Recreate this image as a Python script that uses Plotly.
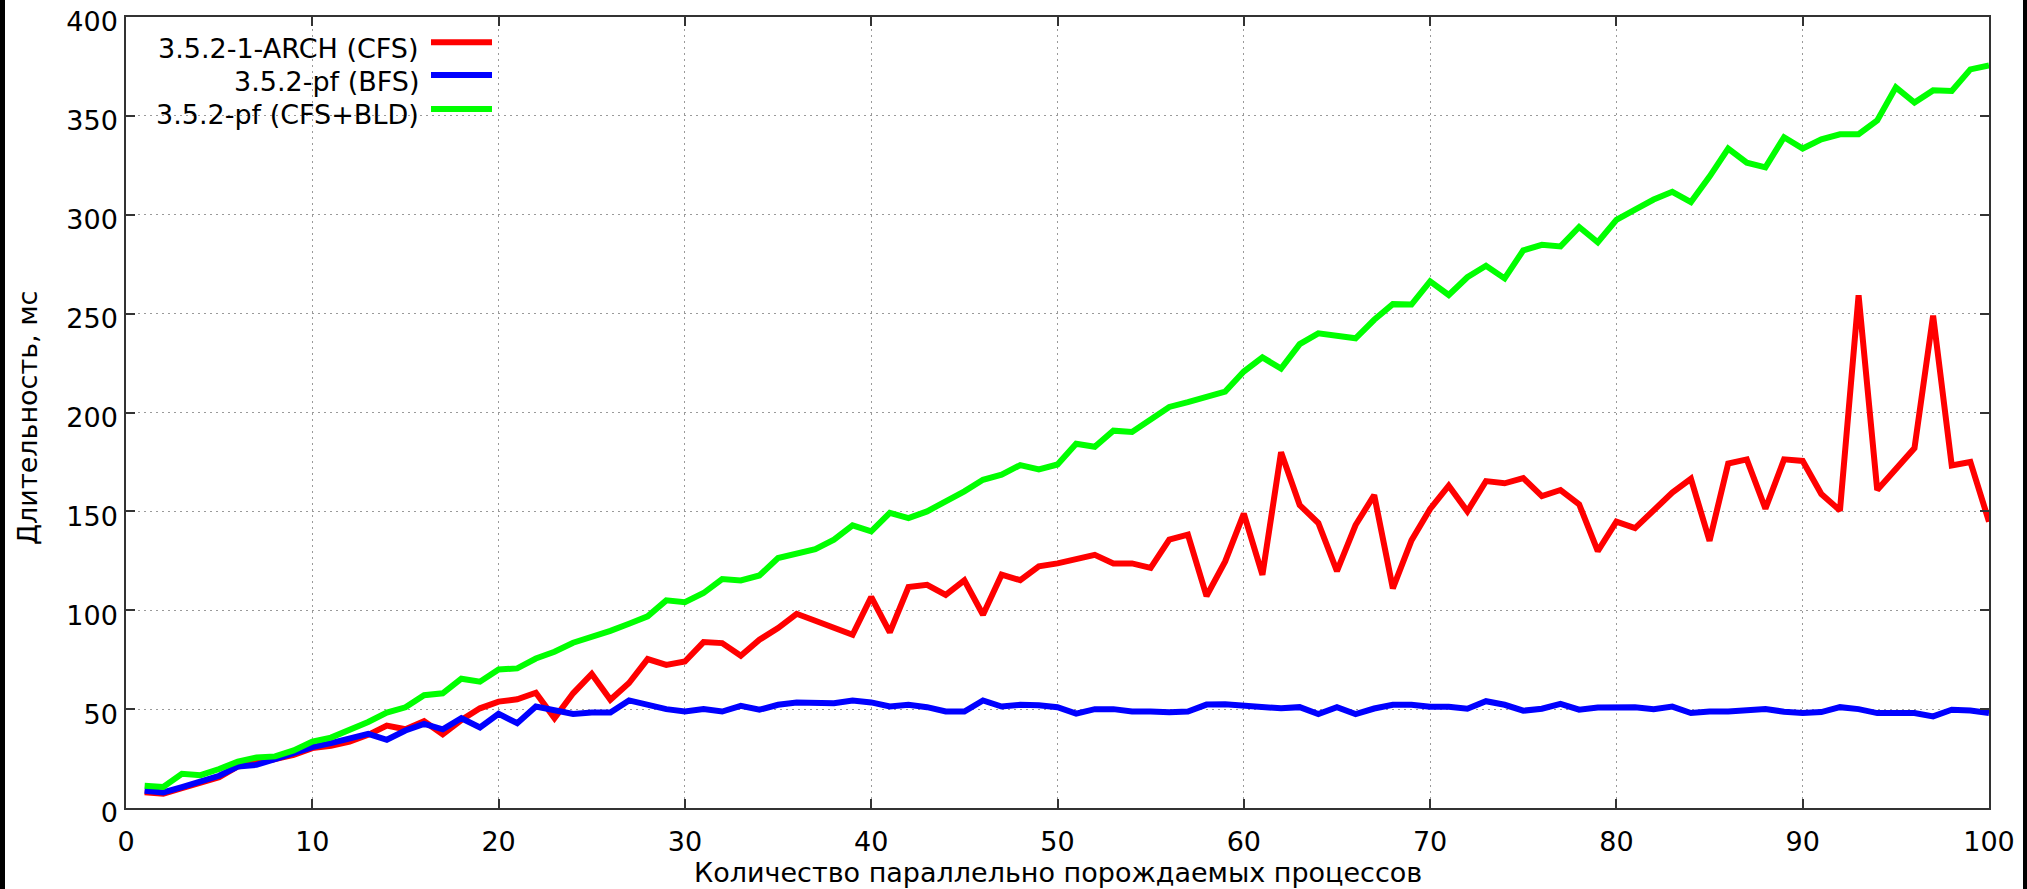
import plotly.graph_objects as go

x_vals = list(range(1, 101))

arch_cfs = [7.9, 7.2, 10.1, 12.9, 15.6, 21.0, 22.7, 24.7, 26.9, 30.3,
            31.4, 33.6, 37.0, 41.7, 39.8, 43.9, 37.3, 44.5, 50.4, 53.8,
            55.0, 58.3, 45.4, 58.0, 67.8, 54.7, 63.2, 75.3, 72.4, 74.1,
            83.9, 83.4, 77.0, 85.1, 91.0, 98.2, 94.7, 91.1, 87.6, 106.7,
            88.8, 111.7, 112.9, 107.8, 115.1, 97.7, 118.0, 115.2, 122.2, 123.7,
            125.6, 128.0, 123.7, 123.7, 121.4, 135.7, 138.2, 107.2, 124.7, 148.9,
            117.9, 179.9, 153.2, 144.1, 119.8, 143.1, 158.2, 111.1, 135.3, 151.2,
            163.0, 150.0, 165.3, 164.2, 166.8, 157.7, 160.8, 153.6, 129.9, 144.8,
            141.5, 150.5, 159.5, 166.5, 135.1, 174.2, 176.3, 151.3, 176.3, 175.5,
            158.8, 150.5, 259.3, 160.8, 171.1, 182.0, 249.0, 173.2, 175.0, 144.8]

pf_bfs = [8.7, 7.9, 10.6, 13.4, 16.3, 21.0, 21.8, 24.7, 27.7, 30.8,
          32.8, 34.8, 37.5, 34.5, 39.2, 42.5, 39.8, 45.4, 40.7, 47.6,
          42.9, 51.3, 49.6, 47.6, 48.3, 48.3, 54.4, 52.2, 50.0, 48.8,
          50.0, 48.8, 51.7, 49.7, 52.2, 53.4, 53.4, 53.0, 54.4, 53.4,
          51.3, 52.2, 51.0, 48.8, 48.8, 54.4, 51.3, 52.2, 52.0, 51.0,
          47.7, 50.0, 50.0, 48.8, 48.8, 48.4, 48.8, 52.3, 52.5, 51.9,
          51.6, 50.4, 51.0, 47.5, 51.0, 47.5, 50.3, 52.2, 52.2, 51.2,
          51.2, 50.2, 54.0, 52.2, 49.2, 50.2, 52.7, 49.7, 50.8, 51.0,
          51.0, 50.0, 51.3, 48.0, 48.8, 48.8, 49.2, 50.0, 48.7, 48.0,
          48.5, 51.0, 50.0, 48.0, 48.0, 48.0, 46.3, 49.7, 49.3, 48.0]

pf_cfs_bld = [11.3, 10.6, 17.3, 16.6, 19.7, 23.5, 25.5, 26.1, 29.1, 33.6,
              35.6, 39.5, 43.5, 48.2, 50.9, 57.0, 58.0, 65.4, 63.9, 70.1,
              70.6, 75.6, 79.0, 83.6, 86.5, 89.6, 93.2, 96.9, 105.0, 104.1,
              108.7, 115.8, 115.1, 117.6, 126.4, 128.6, 130.9, 135.7, 142.9, 139.9,
              149.2, 146.6, 150.0, 155.1, 160.1, 166.0, 168.6, 173.4, 171.2, 173.7,
              184.2, 182.7, 190.8, 190.2, 196.4, 202.8, 205.2, 207.9, 210.6, 220.7,
              227.9, 222.2, 234.6, 240.0, 238.5, 237.5, 246.9, 254.8, 254.6, 266.3,
              259.4, 268.4, 274.2, 267.8, 282.0, 284.8, 284.0, 293.8, 286.1, 297.4,
              302.6, 307.7, 311.6, 306.4, 319.3, 333.5, 326.3, 324.0, 339.2, 333.5,
              338.1, 340.7, 340.7, 347.7, 364.4, 356.7, 362.9, 362.6, 373.5, 375.5]

series_names = ["3.5.2-1-ARCH (CFS)", "3.5.2-pf (BFS)", "3.5.2-pf (CFS+BLD)"]
series_colors = ["#ff0000", "#0000ff", "#00ff00"]
series_values = [arch_cfs, pf_bfs, pf_cfs_bld]

x_ticks = list(range(0, 101, 10))
y_ticks = list(range(0, 401, 50))
x_title = "Количество параллельно порождаемых процессов"
y_title = "Длительность, мс"

FONT = "DejaVu Sans"
FS = 27

fig = go.Figure()
for name, color, vals in zip(series_names, series_colors, series_values):
    fig.add_trace(go.Scatter(x=x_vals, y=vals, mode="lines", name=name,
                             line=dict(color=color, width=6),
                             showlegend=False))

axis_common = dict(
    showline=True, linecolor="#333333", linewidth=1.5, mirror="ticks",
    ticks="inside", ticklen=9, tickwidth=1.5, tickcolor="#333333",
    showgrid=True, gridcolor="#9a9a9a", gridwidth=1, griddash="2px,4px",
    zeroline=False, tickfont=dict(family=FONT, size=FS, color="#000000"),
    ticklabeloverflow="allow",
)

fig.update_xaxes(range=[0, 100], tickvals=x_ticks, ticklabelstandoff=9, **axis_common)
fig.update_yaxes(range=[0, 400], tickvals=y_ticks, ticklabelstandoff=1,
                 ticklabelshift=5, **axis_common)

# plot area in pixels: left 126, right 1989, top 17, bottom 808
W, H = 2027, 889
L, R, T, B = 126, 1989, 17, 808
pw, ph = R - L, B - T

def px(xp):
    return (xp - L) / pw

def py(yp):
    return (B - yp) / ph

annotations = []
shapes = []
# legend (text right-aligned, sample line on the right, like gnuplot)
legend_text_y = [48.5, 81.5, 115]
legend_line_y = [42.3, 75, 109]
for name, color, ty, ly in zip(series_names, series_colors, legend_text_y, legend_line_y):
    annotations.append(dict(x=px(421), y=py(ty), xref="paper", yref="paper",
                            text=name, showarrow=False, xanchor="right", yanchor="middle",
                            font=dict(family=FONT, size=FS, color="#000000")))
    shapes.append(dict(type="line", xref="paper", yref="paper",
                       x0=px(431), x1=px(492), y0=py(ly), y1=py(ly),
                       line=dict(color=color, width=6)))

annotations.append(dict(x=0.5, y=py(872), xref="paper", yref="paper", text=x_title,
                        showarrow=False, xanchor="center", yanchor="middle",
                        font=dict(family=FONT, size=FS, color="#000000")))
annotations.append(dict(x=px(27), y=py(418), xref="paper", yref="paper", text=y_title,
                        showarrow=False, xanchor="center", yanchor="middle", textangle=-90,
                        font=dict(family=FONT, size=FS, color="#000000")))

# black side strips of the screenshot
shapes.append(dict(type="rect", xref="paper", yref="paper", x0=px(0), x1=px(5),
                   y0=py(H), y1=py(0), fillcolor="#000000", line=dict(width=0), layer="above"))
shapes.append(dict(type="rect", xref="paper", yref="paper", x0=px(2023), x1=px(2027),
                   y0=py(H), y1=py(0), fillcolor="#000000", line=dict(width=0), layer="above"))

fig.update_layout(
    width=W, height=H,
    margin=dict(l=L, r=W - R, t=T, b=H - B, autoexpand=False),
    plot_bgcolor="#ffffff", paper_bgcolor="#ffffff",
    annotations=annotations, shapes=shapes,
    font=dict(family=FONT, size=FS, color="#000000"),
    showlegend=False,
)

fig.write_html("out.html", config={"displayModeBar": False},
               post_script="document.body.style.margin='0';document.body.style.overflow='hidden';")
